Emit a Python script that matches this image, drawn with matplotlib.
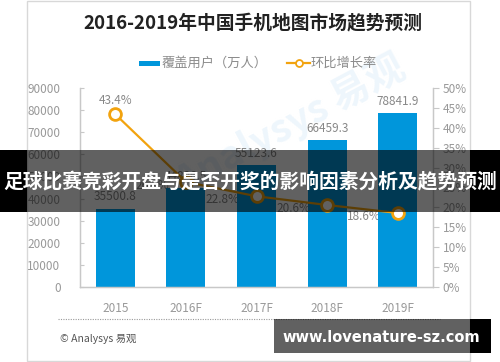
import matplotlib
matplotlib.use("Agg")
import matplotlib.pyplot as plt
from matplotlib.patches import Rectangle
from matplotlib.lines import Line2D

plt.rcParams['font.family'] = ['Noto Sans CJK SC', 'DejaVu Sans']

categories = ["2015", "2016F", "2017F", "2018F", "2019F"]
users = [35500.8, 44886.5, 55123.6, 66459.3, 78841.9]
growth = [43.4, 26.4, 22.8, 20.6, 18.6]
left_ticks = [0, 10000, 20000, 30000, 40000, 50000, 60000, 70000, 80000, 90000]
right_ticks = [0, 5, 10, 15, 20, 25, 30, 35, 40, 45, 50]

title = "2016-2019年中国手机地图市场趋势预测"
legend_bar = "覆盖用户（万人）"
legend_line = "环比增长率"
banner = "足球比赛竞彩开盘与是否开奖的影响因素分析及趋势预测"
site = "www.lovenature-sz.com"
source = "© Analysys 易观"

W, H = 500, 362
fig = plt.figure(figsize=(W / 100, H / 100), dpi=100)
fig.patch.set_facecolor("white")

def fx(x):
    return x / W

def fy(y):
    return 1 - y / H

BLUE = "#0096DB"
ORANGE = "#F2A30F"
GRAY = "#999999"
SPINE = "#C8C8C8"

# card border
fig.patches.append(Rectangle((fx(27), fy(361)), fx(470) - fx(27), fy(0.5) - fy(361),
                             transform=fig.transFigure, facecolor="none",
                             edgecolor="#D8D8D8", lw=1.0, zorder=-2))

# faint watermark (behind the chart)
fig.text(fx(290), fy(125), "Analysys 易观", rotation=28, fontsize=28, color="#EEF6FC",
         ha="center", va="center", fontweight="bold", zorder=-1)

ax1 = fig.add_axes([fx(80), fy(287), fx(433) - fx(80), fy(88) - fy(287)])
ax1.patch.set_alpha(0)
ax2 = ax1.twinx()
ax2.patch.set_alpha(0)

x = list(range(len(categories)))
ax1.bar(x, users, width=0.55, color=BLUE, zorder=2)
ax1.set_xlim(-0.5, len(categories) - 0.5)
ax1.set_ylim(0, 90000)
ax1.set_yticks(left_ticks)
ax1.set_yticklabels([str(v) for v in left_ticks])
ax1.set_xticks(x)
ax1.set_xticklabels(categories)
ax1.tick_params(axis="y", direction="in", length=3, color=SPINE, pad=14,
                labelsize=8.5, labelcolor=GRAY)
ax1.tick_params(axis="x", length=0, pad=11, labelsize=8.5, labelcolor=GRAY)

for xi, v in zip(x, users):
    ax1.text(xi, v + 2300, f"{v:.1f}", ha="center", va="bottom", fontsize=8.5,
             color="#888888", zorder=3)

# line value labels (under bars)
for i, (xi, g) in enumerate(zip(x, growth)):
    yv = g / 50 * 90000
    if i == 0:
        ax1.text(xi, yv + 3500, f"{g:.1f}%", ha="center", va="bottom", fontsize=8.5,
                 color="#888888", zorder=1)
    else:
        ax1.text(xi - 0.24, yv - 1500, f"{g:.1f}%", ha="right", va="center", fontsize=8.5,
                 color="#888888", zorder=1)

ax2.plot(x, growth, color=ORANGE, lw=1.6, marker="o", markersize=8.5,
         markerfacecolor="white", markeredgecolor=ORANGE, markeredgewidth=2, zorder=3)
ax2.set_ylim(0, 50)
ax2.set_yticks(right_ticks)
ax2.set_yticklabels([f"{v}%" for v in right_ticks])
ax2.tick_params(axis="y", direction="out", length=4, color=SPINE, pad=3,
                labelsize=8.5, labelcolor=GRAY)

for ax in (ax1, ax2):
    ax.spines["top"].set_visible(False)
    for s in ("left", "right", "bottom"):
        ax.spines[s].set_color(SPINE)
        ax.spines[s].set_linewidth(0.9)

# title
fig.text(fx(253), fy(23), title, ha="center", va="center", fontsize=13.5,
         fontweight="bold", color="#222222")

# legend
fig.patches.append(Rectangle((fx(139), fy(66)), fx(160) - fx(139), fy(61) - fy(66),
                             transform=fig.transFigure, facecolor=BLUE, edgecolor="none"))
fig.text(fx(162), fy(63), legend_bar, ha="left", va="center", fontsize=9.5, color="#8C8C8C")
fig.lines.append(Line2D([fx(287), fx(310)], [fy(63), fy(63)], transform=fig.transFigure,
                        color=ORANGE, lw=1.6, marker=None))
fig.lines.append(Line2D([fx(298.5)], [fy(63)], transform=fig.transFigure, color=ORANGE,
                        marker="o", markersize=5, markerfacecolor="white",
                        markeredgecolor=ORANGE, markeredgewidth=1.3))
fig.text(fx(311), fy(63), legend_line, ha="left", va="center", fontsize=9.5, color="#8C8C8C")

# dotted separator and source
fig.lines.append(Line2D([fx(58), fx(440)], [fy(319), fy(319)], transform=fig.transFigure,
                        color="#9A9A9A", lw=0.8, linestyle=(0, (1, 1.2))))
fig.text(fx(60), fy(339), source, ha="left", va="center", fontsize=7.5, color="#555555")

# banner overlay
fig.patches.append(Rectangle((fx(27), fy(212)), fx(470) - fx(27), fy(150) - fy(212),
                             transform=fig.transFigure, facecolor="black", alpha=0.62,
                             edgecolor="none", zorder=10))
fig.patches.append(Rectangle((0, fy(212)), fx(27), fy(150) - fy(212),
                             transform=fig.transFigure, facecolor="black",
                             edgecolor="none", zorder=10))
fig.patches.append(Rectangle((fx(470), fy(212)), 1 - fx(470), fy(150) - fy(212),
                             transform=fig.transFigure, facecolor="black",
                             edgecolor="none", zorder=10))
fig.text(fx(250), fy(182), banner, ha="center", va="center", fontsize=14.2,
         fontweight="bold", color="white", zorder=11)

# site watermark box
fig.patches.append(Rectangle((fx(274), fy(353)), fx(470) - fx(274), fy(319) - fy(353),
                             transform=fig.transFigure, facecolor="black", alpha=0.62,
                             edgecolor="none", zorder=10))
fig.patches.append(Rectangle((fx(470), fy(353)), fx(491) - fx(470), fy(319) - fy(353),
                             transform=fig.transFigure, facecolor="black",
                             edgecolor="none", zorder=10))
fig.text(fx(381.5), fy(337), site, ha="center", va="center", fontsize=10.5,
         fontweight="bold", color="white", family=["DejaVu Sans"], zorder=11)

fig.savefig("out.png", dpi=100)
